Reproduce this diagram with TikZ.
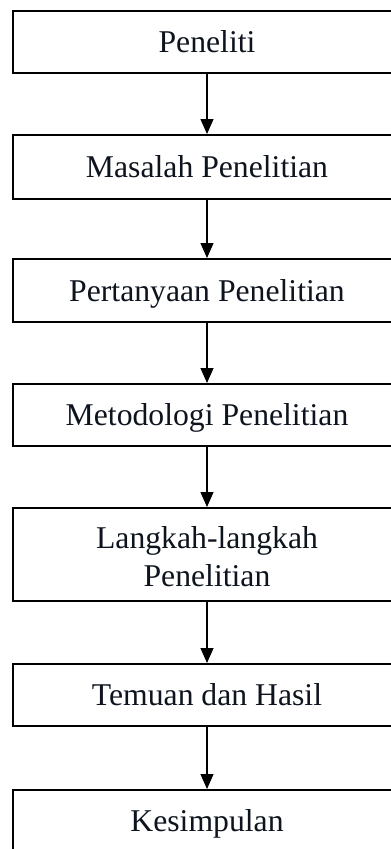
\documentclass[tikz,border=0pt]{standalone}
\usepackage{fontspec}
\setmainfont{Liberation Serif}
\usetikzlibrary{arrows.meta}
\definecolor{txt}{RGB}{14,20,30}
\begin{document}
\begin{tikzpicture}[x=1pt,y=-1pt,
  boxbase/.style={draw=black, line width=2pt, minimum width=388pt, inner sep=0pt,
    font=\fontsize{31.7}{38.5}\selectfont, align=center, text=txt,
    text height=22pt, text depth=1pt},
  arr/.style={-{Triangle[width=13pt,length=15pt]}, line width=1.1pt}]
\useasboundingbox (0,0) rectangle (391,849);
\clip (0,0) rectangle (391,849);
\node[boxbase, minimum height=62pt] (n1) at (207,42) {Peneliti};
\node[boxbase, minimum height=64pt] (n2) at (207,167) {Masalah Penelitian};
\node[boxbase, minimum height=63pt] (n3) at (207,290.5) {Pertanyaan Penelitian};
\node[boxbase, minimum height=62pt] (n4) at (207,415) {Metodologi Penelitian};
\node[boxbase, minimum height=93pt] (n5) at (207,554.5)
  {\raisebox{17pt}[22pt][1pt]{\begin{tabular}[t]{@{}c@{}}Langkah-langkah\\Penelitian\end{tabular}}};
\node[boxbase, minimum height=62pt] (n6) at (207,695) {Temuan dan Hasil};
\node[boxbase, minimum height=62pt] (n7) at (207,821) {Kesimpulan};
\draw[arr] (n1) -- (n2);
\draw[arr] (n2) -- (n3);
\draw[arr] (n3) -- (n4);
\draw[arr] (n4) -- (n5);
\draw[arr] (n5) -- (n6);
\draw[arr] (n6) -- (n7);
\end{tikzpicture}
\end{document}
